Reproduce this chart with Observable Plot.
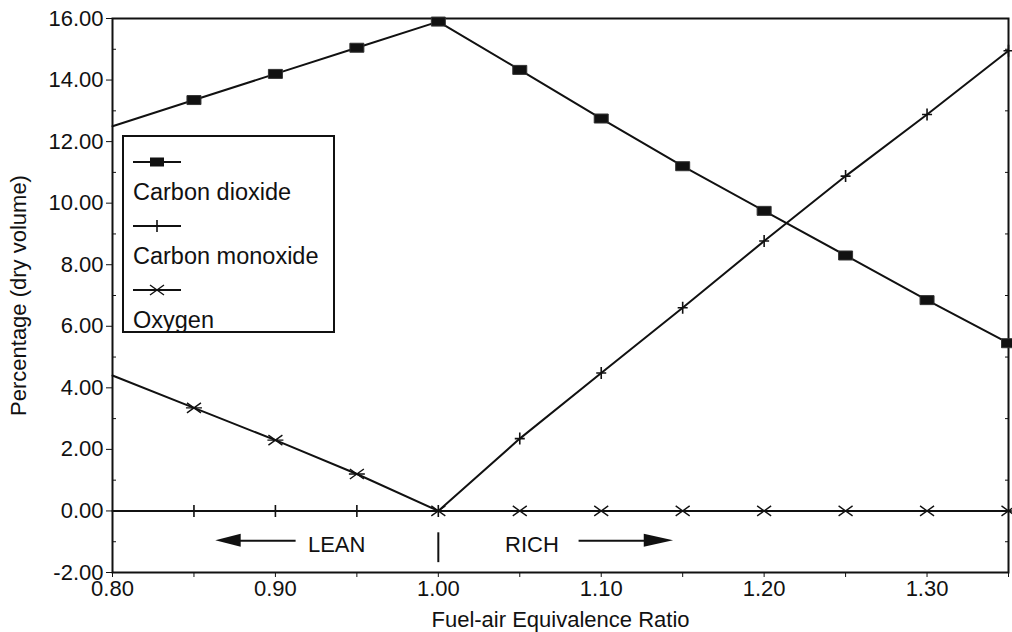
<!DOCTYPE html>
<html>
<head>
<meta charset="utf-8">
<script src="https://cdn.jsdelivr.net/npm/d3@7"></script>
<script src="https://cdn.jsdelivr.net/npm/@observablehq/plot@0.6"></script>
<style>
  body { margin: 0; background: #fff; }
  #chart { position: relative; width: 1012px; height: 632px; font-family: "Liberation Sans", Arial, sans-serif; color: #111; }
  #legend { position: absolute; left: 122px; top: 135px; width: 213px; height: 198px; border: 2px solid #111; background: #fff; box-sizing: border-box; }
  #legend .sample { position: absolute; left: 9px; width: 48px; height: 16px; }
  #legend .name { position: absolute; left: 9px; font-size: 23.5px; line-height: 24px; white-space: nowrap; }
</style>
</head>
<body>
<div id="chart"></div>
<script>
// Fuel-air equivalence ratio (x) and exhaust composition, % dry volume
const ratio = [0.80, 0.85, 0.90, 0.95, 1.00, 1.05, 1.10, 1.15, 1.20, 1.25, 1.30, 1.35];
const carbonDioxide = [12.5, 13.35, 14.2, 15.05, 15.9, 14.33, 12.75, 11.2, 9.75, 8.3, 6.85, 5.45];
const carbonMonoxide = [0, 0, 0, 0, 0, 2.35, 4.48, 6.6, 8.77, 10.88, 12.88, 14.95];
const oxygen = [4.4, 3.35, 2.3, 1.2, 0, 0, 0, 0, 0, 0, 0, 0];

const seriesNames = ["Carbon dioxide", "Carbon monoxide", "Oxygen"];

// axis ticks
const xTicks = ratio;
const yTicks = [-2, 0, 2, 4, 6, 8, 10, 12, 14, 16];
const yMinorTicks = [-1, 1, 3, 5, 7, 9, 11, 13, 15];

// LEAN / RICH annotation below the zero line
const regionLabels = [{text: "LEAN", x: 0.9376, y: -1.12}, {text: "RICH", x: 1.0575, y: -1.12}];
const arrowShafts = [{x1: 0.8769, x2: 0.9124, y: -0.97}, {x1: 1.0861, x2: 1.1284, y: -0.97}];
const arrowHeads = [
  {side: "lean", x: 0.8634, y1: -0.97, y2: -0.97},
  {side: "lean", x: 0.8790, y1: -0.76, y2: -1.18},
  {side: "rich", x: 1.1444, y1: -0.97, y2: -0.97},
  {side: "rich", x: 1.1264, y1: -0.76, y2: -1.18}
];
const divider = [{x: 1.0, y1: -0.71, y2: -1.68}];

const rows = ratio.map((x, i) => ({x, co2: carbonDioxide[i], co: carbonMonoxide[i], o2: oxygen[i]}));
const marked = rows.slice(1); // first column sits on the frame

// marker shapes
const rectSymbol = {draw(ctx) { ctx.rect(-7, -4.5, 14, 9); }};
const plusSymbol = {draw(ctx) { ctx.moveTo(0, -6); ctx.lineTo(0, 6); ctx.moveTo(-5, 0); ctx.lineTo(5, 0); }};
const starSymbol = {draw(ctx) {
  ctx.moveTo(-7, -5); ctx.lineTo(7, 5);
  ctx.moveTo(-7, 5); ctx.lineTo(7, -5);
  ctx.moveTo(-8, 0); ctx.lineTo(8, 0);
}};

const fmt2 = d => d.toFixed(2);

const plot = Plot.plot({
  width: 1012,
  height: 632,
  marginTop: 18,
  marginRight: 4,
  marginBottom: 60,
  marginLeft: 112,
  style: {fontFamily: "'Liberation Sans', Arial, sans-serif", fontSize: "22px", background: "#fff", color: "#111"},
  x: {domain: [0.8, 1.35]},
  y: {domain: [-2, 16]},
  marks: [
    Plot.axisX({ticks: xTicks, tickSize: 5, tickPadding: 3,
      tickFormat: d => Math.round(d * 100) % 10 === 0 ? fmt2(d) : "",
      label: "Fuel-air Equivalence Ratio", labelAnchor: "center", labelOffset: 54, labelArrow: false, fontSize: 22}),
    Plot.axisY({ticks: yTicks, tickSize: 6, tickPadding: 3, tickFormat: fmt2,
      label: "Percentage (dry volume)", labelAnchor: "center", labelOffset: 102, labelArrow: false, fontSize: 22}),
    Plot.axisY({ticks: yMinorTicks, tickSize: -4, tickFormat: () => "", label: null}),
    Plot.axisY({anchor: "right", ticks: yMinorTicks, tickSize: -4, tickFormat: () => "", label: null}),
    Plot.frame({stroke: "#111", strokeWidth: 2}),

    Plot.line(rows, {x: "x", y: "co2", stroke: "#111", strokeWidth: 2}),
    Plot.line(rows, {x: "x", y: "co", stroke: "#111", strokeWidth: 2}),
    Plot.line(rows, {x: "x", y: "o2", stroke: "#111", strokeWidth: 2}),

    Plot.dot(marked, {x: "x", y: "co2", symbol: rectSymbol, fill: "#111", stroke: "#333", strokeWidth: 1}),
    Plot.dot(marked, {x: "x", y: "co", symbol: plusSymbol, fill: "none", stroke: "#111", strokeWidth: 1.6}),
    Plot.dot(marked, {x: "x", y: "o2", symbol: starSymbol, fill: "none", stroke: "#111", strokeWidth: 1.4}),

    Plot.link(arrowShafts, {x1: "x1", x2: "x2", y1: "y", y2: "y", stroke: "#111", strokeWidth: 2}),
    Plot.areaY(arrowHeads, {x: "x", y1: "y1", y2: "y2", z: "side", fill: "#111"}),
    Plot.ruleX(divider, {x: "x", y1: "y1", y2: "y2", stroke: "#111", strokeWidth: 2}),
    Plot.text(regionLabels, {x: "x", y: "y", text: "text", fontSize: 22, fill: "#111"})
  ]
});

const chart = document.getElementById("chart");
chart.appendChild(plot);

// legend box drawn inside the plotting area
const legend = document.createElement("div");
legend.id = "legend";
const sampleMarks = [
  '<rect x="17" y="3.5" width="14" height="9" fill="#111"/>',
  '<path d="M24,2V14" stroke="#111" stroke-width="1.6"/>',
  '<path d="M17,3L31,13M17,13L31,3" stroke="#111" stroke-width="1.4"/>'
];
seriesNames.forEach((name, i) => {
  const top = 17 + i * 64;
  legend.insertAdjacentHTML("beforeend",
    `<svg class="sample" style="top:${top}px" viewBox="0 0 48 16"><path d="M0,8H48" stroke="#111" stroke-width="2"/>${sampleMarks[i]}</svg>` +
    `<div class="name" style="top:${top + 26}px">${name}</div>`);
});
chart.appendChild(legend);
</script>
</body>
</html>
